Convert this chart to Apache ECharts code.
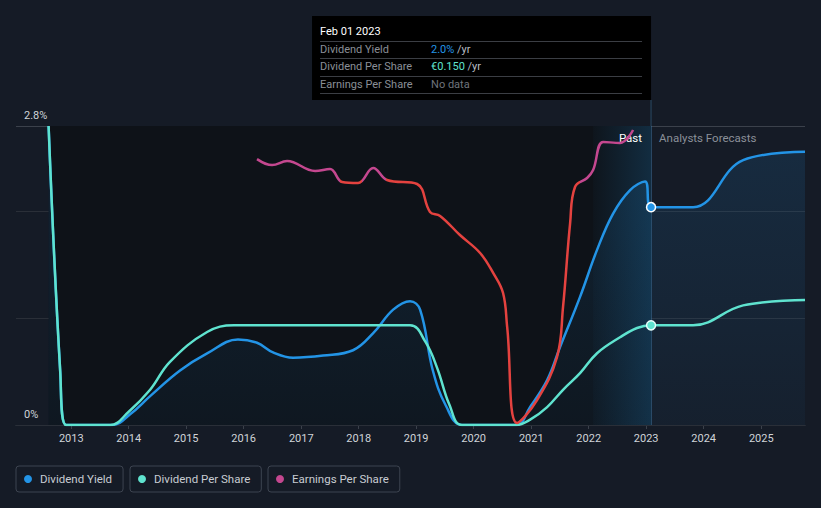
<!DOCTYPE html>
<html>
<head>
<meta charset="utf-8">
<script src="https://cdn.jsdelivr.net/npm/echarts@6/dist/echarts.min.js"></script>
<style>
html,body{margin:0;padding:0;background:#151b26;}
#c{width:821px;height:508px;}
</style>
</head>
<body>
<div id="c"></div>
<script>
// ---- data ----
const yieldData = [
  ['2012-08-10', 2.80], ['2012-10-23', 0.50], ['2012-11-30', 0], ['2013-09-20', 0],
  ['2014-01-10', 0.10], ['2014-05-17', 0.27], ['2014-11-23', 0.51], ['2015-05-14', 0.67],
  ['2015-11-26', 0.80], ['2016-03-26', 0.77], ['2016-07-06', 0.68], ['2016-11-10', 0.63],
  ['2017-05-20', 0.65], ['2017-11-26', 0.70], ['2018-04-03', 0.86], ['2018-08-08', 1.08],
  ['2018-11-23', 1.16], ['2019-01-26', 1.08], ['2019-04-17', 0.51], ['2019-07-09', 0.18],
  ['2019-10-19', 0], ['2020-09-27', 0], ['2020-12-25', 0.17], ['2021-04-12', 0.42],
  ['2021-07-03', 0.73], ['2021-11-07', 1.20], ['2022-02-23', 1.64], ['2022-06-05', 1.98],
  ['2022-09-21', 2.20], ['2022-12-25', 2.28], ['2023-02-01', 2.04], ['2023-10-26', 2.04],
  ['2024-09-08', 2.48], ['2025-10-06', 2.56]
];
const dpsData = [
  ['2012-08-10', 0.45], ['2012-10-23', 0.08], ['2012-11-30', 0], ['2013-09-05', 0],
  ['2014-01-01', 0.02], ['2014-05-17', 0.053], ['2014-09-20', 0.095], ['2015-05-14', 0.14],
  ['2015-11-01', 0.15], ['2018-11-23', 0.15], ['2019-03-01', 0.125], ['2019-05-14', 0.086],
  ['2019-08-01', 0.03], ['2019-10-19', 0], ['2020-09-27', 0], ['2020-12-25', 0.008],
  ['2021-04-12', 0.027], ['2021-07-22', 0.053], ['2021-11-07', 0.078], ['2022-02-23', 0.108],
  ['2022-07-19', 0.132], ['2022-11-04', 0.146], ['2023-02-01', 0.15], ['2023-10-26', 0.15],
  ['2024-09-08', 0.18], ['2025-10-06', 0.188]
];
const epsData = [
  ['2016-03-26', 1.334], ['2016-06-30', 1.304], ['2016-10-03', 1.324], ['2017-03-30', 1.274],
  ['2017-07-03', 1.284], ['2017-09-18', 1.219], ['2017-12-28', 1.214], ['2018-04-03', 1.289],
  ['2018-06-30', 1.229], ['2019-01-07', 1.209], ['2019-03-30', 1.069], ['2019-06-02', 1.049],
  ['2019-10-06', 0.953], ['2020-02-11', 0.863], ['2020-05-04', 0.763], ['2020-07-06', 0.662],
  ['2020-08-01', 0.492], ['2020-10-03', 0.010], ['2021-02-07', 0.125], ['2021-06-14', 0.341],
  ['2021-07-22', 0.592], ['2021-09-05', 1.013], ['2021-10-06', 1.194], ['2021-12-22', 1.239],
  ['2022-01-29', 1.279], ['2022-04-03', 1.420], ['2022-07-19', 1.415], ['2022-10-10', 1.480]
];
const epsRedRanges = [['2017-09-05', '2018-01-22'], ['2018-06-24', '2021-11-07']];
const markDate = '2023-02-01';
const markTitle = 'Feb 01 2023';
const pastStart = '2022-01-29';
const xMin = '2012-01-16';
const xMax = '2025-10-06';
const yMax = 2.8;
const yLabelValues = [0, 2.8];
const seriesNames = ['Dividend Yield', 'Dividend Per Share', 'Earnings Per Share'];

// ---- styling ----
const BG = '#151b26', BLUE = '#2394e6', CYAN = '#5fe3cf', PINK = '#c4478f', RED = '#e4423f';
const FONT = 'Roboto';
const ts = s => +new Date(s + 'T00:00:00');
const DAY = 86400000;
const SMOOTH = 0.4;

const pieces = [];
let prev = null;
epsRedRanges.forEach(([a, b]) => {
  pieces.push(prev === null ? { lt: ts(a), color: PINK } : { gte: prev, lt: ts(a), color: PINK });
  pieces.push({ gte: ts(a), lt: ts(b), color: RED });
  prev = ts(b);
});
pieces.push({ gte: prev, color: PINK });

const valueAt = (arr, d) => arr.find(p => p[0] === d)[1];

const legendBase = {
  orient: 'horizontal', top: 466, icon: 'circle', itemWidth: 14, itemHeight: 8,
  padding: [7, 11, 7, 8], borderColor: '#3d4450', borderWidth: 1, borderRadius: 3,
  selectedMode: false, itemStyle: { borderWidth: 0 },
  textStyle: { color: '#c8ccd2', fontSize: 11.5, fontFamily: FONT }
};

const chart = echarts.init(document.getElementById('c'), null, { renderer: 'svg' });

const option = {
  backgroundColor: BG,
  animation: false,
  textStyle: { fontFamily: FONT },
  grid: { left: 16, right: 16, top: 126, bottom: 83 },
  xAxis: {
    type: 'time', min: xMin, max: xMax,
    minInterval: 365 * DAY, maxInterval: 366 * DAY,
    axisLine: { lineStyle: { color: '#3b414b' } },
    axisTick: { show: true, length: 4, lineStyle: { color: '#3b414b' } },
    splitLine: { show: false },
    axisLabel: { formatter: '{yyyy}', color: '#d0d4d9', fontSize: 11, margin: 8, fontFamily: FONT }
  },
  yAxis: [
    {
      type: 'value', min: 0, max: yMax, interval: 1, z: 1,
      axisLine: { show: false }, axisTick: { show: false },
      splitLine: { show: true, lineStyle: { color: ['#2a2f38', '#2a2f38', '#2a2f38', '#3b414b'] } },
      axisLabel: {
        inside: true, margin: 8, verticalAlign: 'bottom', lineHeight: 22,
        color: '#d0d4d9', fontSize: 11, fontFamily: FONT,
        formatter: v => (yLabelValues.indexOf(v) >= 0 ? v + '%' : '')
      }
    },
    { type: 'value', min: 0, max: 0.45, show: false },
    { type: 'value', min: 0, max: 1.5, show: false }
  ],
  visualMap: [{ type: 'piecewise', show: false, dimension: 0, seriesIndex: 3, pieces: pieces }],
  legend: [
    Object.assign({}, legendBase, { left: 16, data: [{ name: seriesNames[0], itemStyle: { color: BLUE } }] }),
    Object.assign({}, legendBase, { left: 130, data: [{ name: seriesNames[1], itemStyle: { color: CYAN } }] }),
    Object.assign({}, legendBase, { left: 268, data: [{ name: seriesNames[2], itemStyle: { color: PINK } }] })
  ],
  series: [
    {
      name: '_regions', type: 'line', data: [], z: 0, silent: true,
      markArea: {
        silent: true,
        data: [
          [{ xAxis: yieldData[0][0], itemStyle: { color: '#0e1218' } }, { xAxis: markDate }],
          [{
            xAxis: pastStart, name: 'Past',
            itemStyle: {
              color: new echarts.graphic.LinearGradient(0, 0, 1, 0, [
                { offset: 0, color: 'rgba(30,120,180,0.03)' },
                { offset: 1, color: 'rgba(30,120,180,0.26)' }
              ])
            },
            label: { show: true, position: 'insideTopRight', offset: [-4, 1], color: '#ffffff', fontSize: 11.5, fontFamily: FONT }
          }, { xAxis: markDate }],
          [{
            xAxis: markDate, name: 'Analysts Forecasts',
            itemStyle: { color: 'rgba(0,0,0,0)' },
            label: { show: true, position: 'insideTopLeft', offset: [3, 1], color: '#8b9099', fontSize: 11.5, fontFamily: FONT }
          }, { xAxis: xMax }]
        ]
      }
    },
    {
      name: seriesNames[0], type: 'line', yAxisIndex: 0, data: yieldData, smooth: SMOOTH,
      symbol: 'none', z: 2,
      lineStyle: { color: BLUE, width: 2.5 }, itemStyle: { color: BLUE },
      areaStyle: {
        color: new echarts.graphic.LinearGradient(0, 0, 0, 1, [
          { offset: 0, color: 'rgba(35,148,230,0.20)' },
          { offset: 1, color: 'rgba(35,148,230,0.06)' }
        ])
      },
      markLine: {
        silent: true, symbol: 'none', label: { show: false },
        lineStyle: { color: 'rgba(60,110,150,0.55)', type: 'solid', width: 1 },
        data: [{ xAxis: markDate }]
      },
      markPoint: {
        silent: true, symbol: 'circle', symbolSize: 9, label: { show: false },
        itemStyle: { color: BLUE, borderColor: '#ffffff', borderWidth: 1.5 },
        data: [{ coord: [markDate, valueAt(yieldData, markDate)] }]
      }
    },
    {
      name: seriesNames[1], type: 'line', yAxisIndex: 1, data: dpsData, smooth: SMOOTH,
      symbol: 'none', z: 3,
      lineStyle: { color: CYAN, width: 2.5 }, itemStyle: { color: CYAN },
      markPoint: {
        silent: true, symbol: 'circle', symbolSize: 9, label: { show: false },
        itemStyle: { color: CYAN, borderColor: '#e8fffb', borderWidth: 1.5 },
        data: [{ coord: [markDate, valueAt(dpsData, markDate)] }]
      }
    },
    {
      name: seriesNames[2], type: 'line', yAxisIndex: 2, data: epsData, smooth: SMOOTH,
      symbol: 'none', z: 4,
      lineStyle: { width: 2.5 }, itemStyle: { color: PINK }
    }
  ]
};
chart.setOption(option);

// ---- tooltip box anchored to the marked date ----
const px = chart.convertToPixel({ xAxisIndex: 0 }, ts(markDate));
const gridTop = option.grid.top;
const boxW = 339, boxH = 84, boxTop = 16;
const dy = valueAt(yieldData, markDate);
const dps = valueAt(dpsData, markDate);
const rowValues = [
  '{b|' + dy.toFixed(1) + '%}{u| /yr}',
  '{c|€' + dps.toFixed(3) + '}{u| /yr}',
  '{n|No data}'
];
const rich = {
  b: { fill: BLUE, color: BLUE, fontSize: 11, fontFamily: FONT },
  c: { fill: CYAN, color: CYAN, fontSize: 11, fontFamily: FONT },
  u: { fill: '#b9bdc3', color: '#b9bdc3', fontSize: 11, fontFamily: FONT },
  n: { fill: '#6f747c', color: '#6f747c', fontSize: 11, fontFamily: FONT }
};
const children = [
  { type: 'rect', shape: { x: 0, y: 0, width: boxW, height: boxH }, style: { fill: '#000000' } },
  { type: 'text', style: { text: markTitle, x: 8, y: 15, fill: '#ffffff', fontSize: 11, fontFamily: FONT, verticalAlign: 'middle' } }
];
[25, 42, 60, 77].forEach(y => children.push({
  type: 'line', shape: { x1: 8, y1: y + 0.5, x2: boxW - 9, y2: y + 0.5 }, style: { stroke: '#3b3e44', lineWidth: 1 }
}));
[33.5, 50.5, 68.5].forEach((y, i) => {
  children.push({ type: 'text', style: { text: seriesNames[i], x: 8, y: y, fill: '#8a8f97', fontSize: 11, fontFamily: FONT, verticalAlign: 'middle' } });
  children.push({ type: 'text', style: { text: rowValues[i], x: 119, y: y, rich: rich, fontSize: 11, fontFamily: FONT, verticalAlign: 'middle' } });
});
chart.setOption({
  graphic: [
    { type: 'group', x: px - boxW, y: boxTop, children: children, silent: true },
    { type: 'line', silent: true, shape: { x1: px, y1: boxTop + boxH, x2: px, y2: gridTop }, style: { stroke: 'rgba(60,110,150,0.55)', lineWidth: 1 } }
  ]
});
</script>
</body>
</html>
